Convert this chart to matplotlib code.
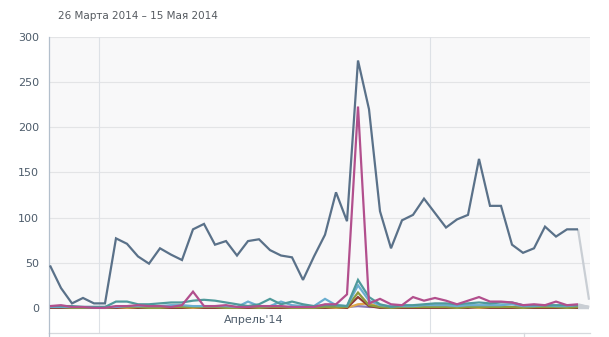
import numpy as np
import matplotlib
matplotlib.use("Agg")
import matplotlib.pyplot as plt
from matplotlib.lines import Line2D

plt.rcParams['font.family'] = ['DejaVu Sans']

title = "26 Марта 2014 – 15 Мая 2014"
month_label = "Апрель'14"

# day index of each point; month boundaries sit between days
days = np.arange(50)
month_bounds = [4.5, 34.5]
month_label_pos = 18.5

y_ticks = [0, 50, 100, 150, 200, 250, 300]

total = [47, 22, 5, 11, 5, 5, 77, 71, 57, 49, 66, 59, 53, 87, 93, 70, 74, 58, 74, 76,
         64, 58, 56, 31, 57, 81, 128, 96, 274, 220, 107, 66, 97, 103, 121, 105, 89, 98, 103, 165,
         113, 113, 70, 61, 66, 90, 79, 87, 87, 9]
pink = [2, 3, 1, 1, 0, 0, 2, 2, 3, 2, 2, 1, 3, 18, 2, 2, 3, 1, 1, 2,
        2, 2, 1, 1, 1, 4, 4, 15, 223, 5, 10, 4, 3, 12, 8, 11, 8, 4, 8, 12,
        7, 7, 6, 3, 4, 3, 7, 3, 4, 1]
teal = [2, 2, 2, 1, 1, 1, 7, 7, 4, 4, 5, 6, 6, 8, 9, 8, 6, 4, 2, 4,
        10, 4, 7, 4, 2, 3, 3, 2, 31, 12, 4, 1, 3, 3, 4, 5, 5, 4, 5, 6,
        5, 6, 6, 3, 3, 3, 3, 3, 3, 1]
blue = [1, 1, 1, 1, 1, 1, 1, 2, 2, 2, 2, 3, 3, 2, 2, 2, 2, 1, 7, 2,
        2, 7, 3, 2, 2, 10, 3, 2, 25, 8, 3, 2, 2, 2, 3, 3, 3, 2, 3, 3,
        3, 3, 4, 2, 2, 3, 2, 2, 3, 1]
olive = [1, 1, 0, 0, 0, 0, 1, 1, 1, 0, 0, 1, 1, 1, 1, 1, 0, 0, 1, 0,
         1, 1, 0, 0, 0, 1, 1, 1, 17, 3, 1, 0, 1, 1, 1, 1, 1, 0, 1, 1,
         1, 1, 1, 0, 1, 1, 1, 0, 1, 0]
brown = [0, 0, 0, 0, 0, 0, 0, 1, 0, 0, 0, 0, 0, 1, 0, 0, 0, 0, 0, 0,
         0, 0, 0, 0, 0, 0, 1, 0, 12, 2, 0, 0, 0, 0, 0, 0, 0, 0, 0, 1,
         0, 0, 0, 0, 0, 0, 0, 0, 0, 0]
orange = [0, 0, 0, 0, 0, 0, 0, 0, 0, 0, 0, 0, 0, 0, 0, 0, 0, 0, 0, 0,
          0, 0, 0, 0, 0, 0, 0, 0, 4, 5, 1, 0, 0, 0, 0, 0, 0, 0, 1, 0,
          0, 0, 0, 0, 0, 0, 0, 0, 0, 0]
purple = [1, 1, 1, 1, 1, 1, 1, 1, 1, 1, 1, 1, 1, 1, 1, 1, 1, 1, 1, 1,
          1, 1, 1, 1, 1, 1, 1, 1, 2, 1, 1, 1, 1, 1, 1, 1, 1, 1, 1, 1,
          1, 1, 1, 1, 1, 1, 1, 1, 1, 0]

series = [
    (purple, "#8b7bb5"),
    (orange, "#e0a94a"),
    (brown, "#8e3b34"),
    (olive, "#8c9b3e"),
    (blue, "#6aaed0"),
    (teal, "#4f9a9b"),
    (pink, "#b24f8d"),
    (total, "#5a7189"),
]

W, H = 609, 337
fig = plt.figure(figsize=(W / 100, H / 100), dpi=100)
left, right, top, bottom = 49, 590, 37, 333
ax = fig.add_axes([left / W, 1 - bottom / H, (right - left) / W, (bottom - top) / H])

ymin = -27.8
ax.set_ylim(ymin, 300)
ax.set_xlim(-0.09, 49.09)
ax.set_facecolor("#f8f8f9")
ax.axhspan(ymin, 0, color="white", zorder=0.5, lw=0)

for yv in y_ticks[1:]:
    ax.axhline(yv, color="#e3e4e6", lw=0.8, zorder=1)
for xb in month_bounds:
    ax.axvline(xb, color="#dde1e6", lw=0.8, zorder=1)

for vals, col in series:
    v = np.asarray(vals, dtype=float)
    ax.plot(days[:-1], v[:-1], color=col, lw=1.6, zorder=3,
            solid_joinstyle="miter", solid_capstyle="butt")
    ax.plot(days[-2:], v[-2:], color="#c9ced4", lw=1.6, zorder=2,
            solid_capstyle="butt")

ax.set_yticks(y_ticks)
ax.set_yticklabels([str(t) for t in y_ticks])
ax.tick_params(axis="y", length=0, pad=7, labelsize=8, labelcolor="#4d5c6b")
ax.set_xticks([])

for s in ["top", "right"]:
    ax.spines[s].set_visible(False)
ax.spines["left"].set_color("#b3bfcc")
ax.spines["left"].set_linewidth(0.9)
ax.spines["bottom"].set_color("#d6d9dd")
ax.spines["bottom"].set_linewidth(0.9)

ax.text(month_label_pos, ymin / 2, month_label, ha="center", va="center",
        fontsize=8, color="#4d5c6b", zorder=4)

# left axis runs to the bottom edge, small navigator tick on the right
fig.add_artist(Line2D([left / W, left / W], [0, 1 - bottom / H], color="#b3bfcc", lw=0.9))
fig.add_artist(Line2D([524 / W, 524 / W], [0, 1 - bottom / H], color="#d6d9dd", lw=0.9))

fig.text(58 / W, 1 - 16 / H, title, ha="left", va="center", fontsize=7.5, color="#555a60")

fig.savefig("out.png", dpi=100)
